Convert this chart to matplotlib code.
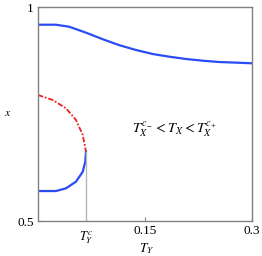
import numpy as np
import matplotlib.pyplot as plt

plt.rcParams['font.family'] = ['Liberation Serif', 'DejaVu Serif']
plt.rcParams['mathtext.fontset'] = 'stix'

# upper stable branch
upper_T = [0.0, 0.0252, 0.0435, 0.0673, 0.0911, 0.1136, 0.1374, 0.1612, 0.1836,
           0.2075, 0.2313, 0.2537, 0.2776, 0.30]
upper_x = [0.9586, 0.9586, 0.954, 0.940, 0.9245, 0.911, 0.8995, 0.890, 0.884,
           0.8785, 0.8745, 0.8715, 0.870, 0.8685]

# unstable branch (dash-dot)
red_T = [0.0, 0.0206, 0.0393, 0.0533, 0.0627, 0.0673]
red_x = [0.7944, 0.7827, 0.7633, 0.736, 0.701, 0.662]

# lower stable branch
lower_T = [0.0028, 0.0252, 0.0393, 0.0533, 0.0627, 0.0662, 0.0673]
lower_x = [0.570, 0.570, 0.5764, 0.592, 0.615, 0.638, 0.662]

Tc = 0.0673

fig = plt.figure(figsize=(2.62, 2.56), dpi=100)
ax = fig.add_axes([38/262, 35/256, 214/262, 214/256])

ax.plot(upper_T, upper_x, color='#2a4cf5', lw=1.6)
ax.plot(lower_T, lower_x, color='#2a4cf5', lw=1.6)
ax.plot(red_T, red_x, color='#f02020', lw=1.3, ls=(0, (3, 1, 1, 1)))
ax.plot([Tc, Tc], [0.5, 0.662], color='#b8b8b8', lw=1.0)

ax.set_xlim(0, 0.3)
ax.set_ylim(0.5, 1)
ax.set_xticks([0.15, 0.3])
ax.set_xticklabels(['0.15', '0.3'])
ax.set_yticks([0.5, 1])
ax.set_yticklabels(['0.5', '1'])
ax.tick_params(direction='in', length=3, width=0.8, color='#888888', labelsize=9.5, pad=3)
for s in ax.spines.values():
    s.set_color('#808080')
    s.set_linewidth(1.0)

# T_Y^c label under the gray line
ax.text(Tc, -0.079, r'$T_Y^{c}$', transform=ax.get_xaxis_transform(),
        fontsize=9, ha='center', va='center')
fig.text(147/262, 1 - 249/256, r'$T_Y$', fontsize=9.5, ha='center', va='center')
fig.text(8/262, 1 - 113/256, r'$x$', fontsize=8.5, ha='center', va='center')
ax.text(0.192, 0.712, r'$T_X^{c_-} < T_X < T_X^{c_+}$', fontsize=10.3, ha='center', va='center')

fig.savefig('out.png', dpi=100)
